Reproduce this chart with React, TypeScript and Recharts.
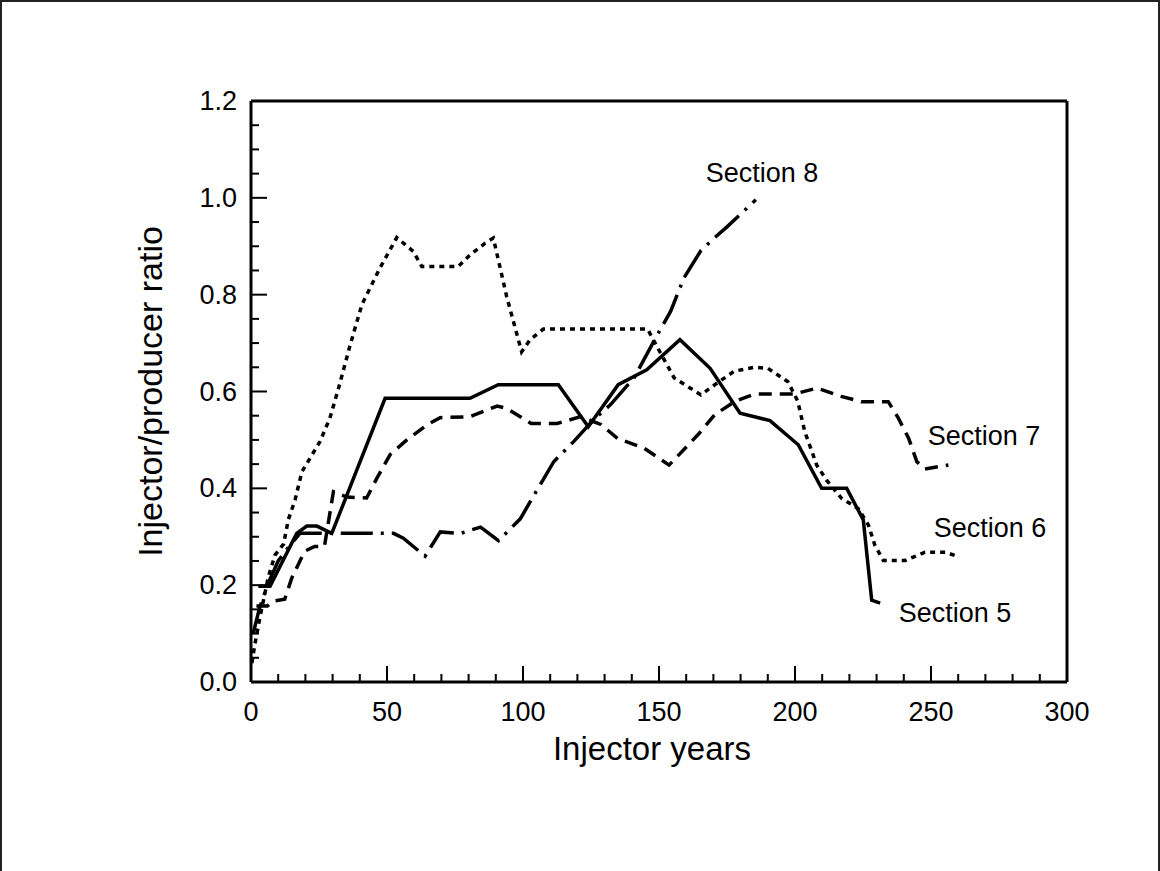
import React from 'react';
import { LineChart, Line, XAxis, YAxis, ReferenceDot } from 'recharts';

// Section 5 (solid)
const s5x = [2.7, 7, 16.8, 20.5, 24.2, 29.7, 49.3, 80.5, 90.9, 113, 124, 135, 145.5, 157.7, 168.8, 179.8, 190.8, 201.2, 209.8, 219, 225.1, 228.2, 231.3];
const s5y = [0.198, 0.198, 0.307, 0.322, 0.322, 0.307, 0.586, 0.586, 0.614, 0.614, 0.527, 0.614, 0.645, 0.707, 0.648, 0.555, 0.54, 0.49, 0.4, 0.4, 0.335, 0.169, 0.163];

// Section 6 (dotted)
const s6x = [0.3, 1.5, 3.3, 6.4, 8.8, 12, 13.7, 16.2, 18.7, 25.4, 29, 32.2, 36.5, 40.8, 47.5, 53.6, 59.7, 62.8, 76.2, 80.5, 86, 89.1, 94, 99.5, 102.6, 107.5, 145.8, 150.5, 155.6, 165.4, 172, 177.7, 185, 190, 197.4, 201, 203.6, 208, 211.6, 217, 223.3, 227, 229.4, 232.5, 240.5, 247.8, 255.3, 259.6];
const s6y = [0.039, 0.08, 0.134, 0.218, 0.262, 0.285, 0.335, 0.376, 0.434, 0.497, 0.545, 0.607, 0.697, 0.78, 0.856, 0.918, 0.889, 0.858, 0.858, 0.882, 0.906, 0.917, 0.796, 0.682, 0.707, 0.729, 0.729, 0.68, 0.628, 0.593, 0.62, 0.642, 0.65, 0.648, 0.62, 0.58, 0.517, 0.448, 0.417, 0.38, 0.358, 0.324, 0.282, 0.251, 0.251, 0.268, 0.268, 0.26];

// Section 7 (dashed)
const s7x = [2, 6, 8, 12.4, 15, 19.7, 23.4, 27, 30.3, 35.2, 42.5, 46.2, 51.2, 57.3, 64.7, 69.5, 80.5, 90.5, 94, 99, 103, 112.6, 121.2, 128.6, 134.8, 144.5, 153.7, 164.2, 170.5, 177.7, 185.2, 199.9, 208, 217, 224.4, 234.3, 238, 241.8, 244.8, 247.8, 256.4];
const s7y = [0.157, 0.157, 0.167, 0.171, 0.215, 0.27, 0.28, 0.28, 0.393, 0.382, 0.38, 0.42, 0.47, 0.5, 0.531, 0.546, 0.548, 0.57, 0.565, 0.548, 0.534, 0.534, 0.548, 0.532, 0.503, 0.483, 0.448, 0.51, 0.552, 0.579, 0.595, 0.595, 0.607, 0.59, 0.579, 0.579, 0.545, 0.503, 0.455, 0.44, 0.448];

// Section 8 (dash-dot)
const s8x = [0.8, 3, 6, 10, 14, 18, 30, 52.4, 56, 64, 69.6, 77, 84.4, 91, 99, 105.2, 111.3, 118.7, 126, 132.2, 140.8, 149.4, 154.3, 159.2, 165.4, 170.3, 175, 185.6];
const s8y = [0.1, 0.15, 0.2, 0.25, 0.28, 0.307, 0.307, 0.307, 0.297, 0.26, 0.31, 0.307, 0.32, 0.292, 0.337, 0.397, 0.455, 0.497, 0.542, 0.573, 0.628, 0.717, 0.766, 0.835, 0.891, 0.917, 0.94, 0.996];

const xTicks = [0, 10, 20, 30, 40, 50, 60, 70, 80, 90, 100, 110, 120, 130, 140, 150, 160, 170, 180, 190, 200, 210, 220, 230, 240, 250, 260, 270, 280, 290, 300];
const yTicks = [0, 0.05, 0.1, 0.15, 0.2, 0.25, 0.3, 0.35, 0.4, 0.45, 0.5, 0.55, 0.6, 0.65, 0.7, 0.75, 0.8, 0.85, 0.9, 0.95, 1, 1.05, 1.1, 1.15, 1.2];

const sectionLabels = ['Section 8', 'Section 7', 'Section 6', 'Section 5'];
const labelX = [187.9, 269.5, 271.7, 258.8];
const labelY = [1.052, 0.51, 0.319, 0.144];

const toPoints = (xs: number[], ys: number[]) => xs.map((x, i) => ({ x, y: ys[i] }));

const FONT = '"Liberation Sans", Arial, Helvetica, sans-serif';

const isMajorX = (v: number) => v % 50 === 0;
const isMajorY = (v: number) => Math.abs(v * 5 - Math.round(v * 5)) < 1e-6;

const BottomTick = ({ x, y, payload }: any) => {
  const major = isMajorX(payload.value);
  return (
    <g>
      <line x1={x} y1={y} x2={x} y2={y - (major ? 16 : 8)} stroke="#000" strokeWidth={2} />
      {major && (
        <text x={x} y={y + 39} textAnchor="middle" fontSize={27} fontFamily={FONT} fill="#000">
          {payload.value}
        </text>
      )}
    </g>
  );
};

const TopTick = ({ x, y, payload }: any) => {
  const major = isMajorX(payload.value);
  return <line x1={x} y1={y} x2={x} y2={y + (major ? 16 : 8)} stroke="#000" strokeWidth={2} />;
};

const LeftTick = ({ x, y, payload }: any) => {
  const major = isMajorY(payload.value);
  return (
    <g>
      <line x1={x} y1={y} x2={x + (major ? 16 : 8)} y2={y} stroke="#000" strokeWidth={2} />
      {major && (
        <text x={x - 14} y={y + 9} textAnchor="end" fontSize={27} fontFamily={FONT} fill="#000">
          {payload.value.toFixed(1)}
        </text>
      )}
    </g>
  );
};

const RightTick = ({ x, y, payload }: any) => {
  const major = isMajorY(payload.value);
  return <line x1={x} y1={y} x2={x - (major ? 16 : 8)} y2={y} stroke="#000" strokeWidth={2} />;
};

const axisLine = { stroke: '#000', strokeWidth: 3 };

export default function App() {
  return (
    <div
      style={{
        position: 'absolute',
        left: 0,
        top: 0,
        width: 1160,
        height: 871,
        background: '#fff',
        boxSizing: 'border-box',
        borderTop: '2px solid #222',
        borderLeft: '2px solid #222',
        borderRight: '2px solid #222',
        fontFamily: FONT,
      }}
    >
      <div style={{ position: 'absolute', left: -2, top: -2 }}>
        <LineChart width={1160} height={871} margin={{ top: 100, right: 92, bottom: 188, left: 250 }}>
          <XAxis
            type="number"
            dataKey="x"
            domain={[0, 300]}
            ticks={xTicks}
            interval={0}
            height={1}
            tickSize={0}
            tickMargin={0}
            tickLine={false}
            axisLine={axisLine}
            tick={BottomTick}
            allowDataOverflow
            label={{ value: 'Injector years', position: 'bottom', offset: 54, fontSize: 33, fill: '#000', fontFamily: FONT, dx: -7 }}
          />
          <XAxis
            xAxisId="top"
            orientation="top"
            type="number"
            dataKey="x"
            domain={[0, 300]}
            ticks={xTicks}
            interval={0}
            height={1}
            tickSize={0}
            tickMargin={0}
            tickLine={false}
            axisLine={axisLine}
            tick={TopTick}
          />
          <YAxis
            type="number"
            dataKey="y"
            domain={[0, 1.2]}
            ticks={yTicks}
            interval={0}
            width={1}
            tickSize={0}
            tickMargin={0}
            tickLine={false}
            axisLine={axisLine}
            tick={LeftTick}
            allowDataOverflow
            label={{
              value: 'Injector/producer ratio',
              angle: -90,
              position: 'left',
              offset: 100,
              fontSize: 34,
              fill: '#000',
              fontFamily: FONT,
              style: { textAnchor: 'middle' },
            }}
          />
          <YAxis
            yAxisId="right"
            orientation="right"
            type="number"
            domain={[0, 1.2]}
            ticks={yTicks}
            interval={0}
            width={1}
            tickSize={0}
            tickMargin={0}
            tickLine={false}
            axisLine={axisLine}
            tick={RightTick}
          />

          <Line data={toPoints(s5x, s5y)} dataKey="y" type="linear" stroke="#000" strokeWidth={3.5} dot={false} isAnimationActive={false} />
          <Line data={toPoints(s6x, s6y)} dataKey="y" type="linear" stroke="#000" strokeWidth={3.5} strokeDasharray="5 5" dot={false} isAnimationActive={false} />
          <Line data={toPoints(s7x, s7y)} dataKey="y" type="linear" stroke="#000" strokeWidth={3.5} strokeDasharray="13 8" dot={false} isAnimationActive={false} />
          <Line data={toPoints(s8x, s8y)} dataKey="y" type="linear" stroke="#000" strokeWidth={3.5} strokeDasharray="32 8 3 8" dot={false} isAnimationActive={false} />

          {sectionLabels.map((name, i) => (
            <ReferenceDot
              key={name}
              x={labelX[i]}
              y={labelY[i]}
              r={0}
              fill="none"
              stroke="none"
              label={{ value: name, position: 'center', fontSize: 27, fill: '#000', fontFamily: FONT }}
            />
          ))}
        </LineChart>
      </div>
    </div>
  );
}
